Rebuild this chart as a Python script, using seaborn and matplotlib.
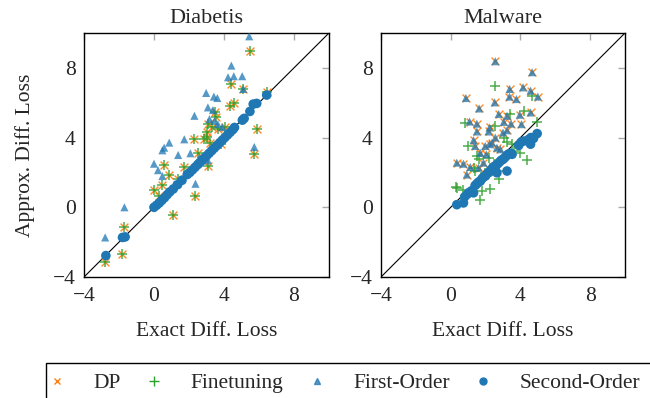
import matplotlib
matplotlib.use("Agg")
import matplotlib.pyplot as plt
import seaborn as sns
import pandas as pd
from matplotlib.patches import Rectangle
from matplotlib.lines import Line2D

# ---------------- data ----------------
panels = ["Diabetis", "Malware"]
methods = ["DP", "Finetuning", "First-Order", "Second-Order"]
ticks = [-4, 0, 4, 8]

# Diabetis
dia_dp_x = [5.48, 4.42, 5.10, 4.33, 4.56, 6.44, 3.46, 5.87, 5.73, 3.10, 3.30, 3.65, 3.00, 2.85, 3.20, 3.05,
            3.85, 2.31, 2.50, 1.73, 3.08, 0.58, 0.87, 0.48, 0.00, 0.29, 2.35, 1.06, -1.73, -1.83, -2.79, 1.35, 4.04, 3.55]
dia_dp_y = [8.96, 7.08, 6.79, 5.83, 5.98, 6.63, 5.44, 4.52, 3.08, 4.80, 4.62, 4.52, 4.30, 3.90, 3.70, 4.05,
            3.62, 3.90, 3.13, 2.31, 2.37, 2.42, 1.88, 1.27, 1.02, 0.63, 0.63, -0.42, -1.13, -2.67, -3.15, 1.60, 4.58, 5.20]
dia_ft_x = [5.48, 4.42, 5.10, 4.33, 4.56, 6.44, 3.46, 5.87, 5.73, 3.10, 3.30, 3.65, 3.00, 2.85, 3.20, 3.05,
            3.85, 2.31, 2.50, 1.73, 3.08, 0.58, 0.87, 0.48, 0.00, 0.29, 2.35, 1.06, -1.73, -1.83, -2.79, 1.35, 4.04, 3.55]
dia_ft_y = [8.96, 7.08, 6.79, 5.83, 5.98, 6.63, 5.44, 4.52, 3.08, 4.80, 4.62, 4.52, 4.30, 3.90, 3.70, 4.05,
            3.62, 3.90, 3.13, 2.31, 2.37, 2.42, 1.88, 1.27, 1.02, 0.63, 0.63, -0.42, -1.13, -2.67, -3.15, 1.60, 4.58, 5.20]
dia_fo_x = [5.44, 4.42, 4.23, 4.56, 5.04, 5.10, 2.98, 3.42, 3.62, 3.08, 3.37, 2.31, 3.17, 3.46, 3.65, 3.90,
            1.73, 0.87, 0.58, 0.48, 1.38, 2.08, 0.00, 0.23, 0.48, 2.37, 3.08, 5.73, -1.69, -2.79, 1.15, 2.60, 3.30]
dia_fo_y = [9.81, 8.13, 7.46, 7.52, 7.52, 6.79, 6.56, 6.35, 6.27, 5.73, 5.58, 5.25, 5.06, 4.96, 4.77, 4.60,
            3.90, 3.71, 3.42, 3.27, 3.00, 3.10, 2.50, 2.13, 1.79, 1.35, 2.69, 3.46, 0.00, -1.73, 1.31, 2.85, 3.40]
dia_so_x = [-2.75, -1.80, -1.65, 0.00, 0.15, 0.30, 0.45, 0.60, 0.75, 0.90, 1.10, 1.35, 1.60, 1.90, 2.05, 2.20,
            2.35, 2.50, 2.60, 2.75, 2.90, 3.00, 3.15, 3.30, 3.45, 3.60, 3.75, 3.90, 4.05, 4.20, 4.35, 4.50,
            4.60, 5.05, 5.15, 5.48, 5.67, 5.87, 6.44]
dia_so_y = [-2.77, -1.73, -1.70, 0.00, 0.12, 0.25, 0.40, 0.55, 0.72, 0.88, 1.05, 1.30, 1.55, 1.88, 2.00, 2.15,
            2.30, 2.45, 2.55, 2.70, 2.85, 2.95, 3.10, 3.25, 3.40, 3.55, 3.70, 3.85, 4.00, 4.15, 4.30, 4.45,
            4.58, 5.00, 5.10, 5.50, 5.92, 5.96, 6.44]

# Malware
mal_fo_x = [2.56, 4.67, 3.38, 4.15, 4.58, 5.00, 3.37, 3.77, 0.87, 2.52, 1.63, 2.75, 3.23, 3.96, 4.58, 1.08,
            1.50, 1.50, 2.23, 2.17, 3.04, 3.46, 4.06, 3.00, 3.23, 2.56, 2.37, 1.31, 1.40, 1.98, 2.23, 2.65,
            2.85, 1.69, 2.04, 0.35, 0.73, 1.12, 0.92, 1.60, 1.88]
mal_fo_y = [8.38, 7.75, 6.79, 6.88, 6.69, 6.35, 6.35, 6.21, 6.27, 6.02, 5.67, 5.35, 5.25, 5.31, 5.44, 4.92,
            4.80, 4.35, 4.58, 4.35, 4.90, 4.80, 4.77, 4.29, 4.42, 4.00, 3.71, 3.85, 3.52, 3.52, 3.62, 3.42,
            3.33, 3.13, 3.04, 2.56, 2.50, 2.31, 1.88, 2.27, 2.56]
mal_dp_x = [2.56, 4.67, 3.38, 4.15, 4.58, 5.00, 3.37, 3.77, 0.87, 2.52, 1.63, 2.75, 3.23, 3.96, 4.58, 1.08,
            1.50, 1.50, 2.23, 2.17, 3.04, 3.46, 4.06, 3.00, 3.23, 2.56, 2.37, 1.31, 1.40, 1.98, 2.23, 2.65,
            2.85, 1.69, 2.04, 0.35, 0.73, 1.12, 0.92, 1.60, 1.88]
mal_dp_y = [8.38, 7.75, 6.79, 6.88, 6.69, 6.35, 6.35, 6.21, 6.27, 6.02, 5.67, 5.35, 5.25, 5.31, 5.44, 4.92,
            4.80, 4.35, 4.58, 4.35, 4.90, 4.80, 4.77, 4.29, 4.42, 4.00, 3.71, 3.85, 3.52, 3.52, 3.62, 3.42,
            3.33, 3.13, 3.04, 2.56, 2.50, 2.31, 1.88, 2.27, 2.56]
mal_ft_x = [2.56, 4.67, 3.42, 4.19, 4.96, 0.83, 2.56, 3.04, 3.23, 3.52, 1.02, 1.50, 1.60, 2.17, 4.00, 4.35,
            2.46, 2.75, 2.75, 0.35, 0.73, 1.79, 2.27, 1.69, 1.40, 1.31, 3.62, 1.98, 0.30]
mal_ft_y = [6.98, 6.40, 5.35, 5.50, 4.92, 4.83, 4.67, 4.00, 3.77, 3.62, 3.52, 2.94, 2.75, 2.85, 3.13, 2.71,
            2.46, 2.08, 1.60, 1.12, 0.98, 0.92, 1.06, 0.44, 2.08, 2.27, 3.23, 1.98, 1.14]
mal_so_x = [0.35, 0.73, 0.80, 0.95, 1.05, 1.20, 1.31, 1.40, 1.50, 1.60, 1.70, 1.80, 1.90, 2.00, 2.10, 2.20,
            2.30, 2.40, 2.50, 2.60, 2.65, 2.70, 2.80, 2.90, 3.00, 3.10, 3.20, 3.23, 3.30, 3.45, 3.52, 3.90,
            4.05, 4.19, 4.48, 4.58, 4.60, 4.75, 4.96]
mal_so_y = [0.15, 0.25, 0.60, 0.75, 0.85, 0.95, 0.83, 1.25, 1.35, 1.45, 1.50, 1.65, 1.75, 1.80, 1.95, 2.00,
            2.15, 2.25, 2.35, 2.40, 1.98, 2.50, 2.60, 2.70, 2.75, 2.85, 2.95, 2.08, 3.05, 3.10, 3.04, 3.55,
            3.75, 3.80, 3.90, 3.62, 4.00, 3.95, 4.23]

series = {
    "Diabetis": {
        "DP": (dia_dp_x, dia_dp_y),
        "Finetuning": (dia_ft_x, dia_ft_y),
        "First-Order": (dia_fo_x, dia_fo_y),
        "Second-Order": (dia_so_x, dia_so_y),
    },
    "Malware": {
        "DP": (mal_dp_x, mal_dp_y),
        "Finetuning": (mal_ft_x, mal_ft_y),
        "First-Order": (mal_fo_x, mal_fo_y),
        "Second-Order": (mal_so_x, mal_so_y),
    },
}

rows = []
for p in panels:
    for m in methods:
        xs, ys = series[p][m]
        for a, b in zip(xs, ys):
            rows.append({"panel": p, "method": m, "exact": a, "approx": b})
df = pd.DataFrame(rows)

# ---------------- style ----------------
sns.set_theme(style="white")
plt.rcParams["font.family"] = ["Liberation Serif", "DejaVu Serif"]
FS = 15.5

colors = {"DP": "#ff7f0e", "Finetuning": "#2ca02c", "First-Order": "#1f77b4", "Second-Order": "#1f77b4"}
markers = {"DP": "x", "Finetuning": "+", "First-Order": "^", "Second-Order": "o"}
sizes = {"DP": 32, "Finetuning": 60, "First-Order": 34, "Second-Order": 48}
alphas = {"DP": 0.9, "Finetuning": 0.85, "First-Order": 0.75, "Second-Order": 1.0}
lws = {"DP": 1.0, "Finetuning": 1.1, "First-Order": 0, "Second-Order": 0}

W, H = 650, 398
fig = plt.figure(figsize=(W / 100, H / 100), dpi=100)

def fx(px):
    return px / W

def fy(py):
    return 1 - py / H

ax_pos = [(84, 33, 329, 277), (381, 33, 625, 277)]
axes = []
for (l, t, r, b), p in zip(ax_pos, panels):
    ax = fig.add_axes([fx(l), fy(b), (r - l) / W, (b - t) / H])
    axes.append(ax)
    ax.plot([-4, 10], [-4, 10], color="black", lw=0.8, zorder=1)
    sub = df[df["panel"] == p]
    for m in methods:
        d = sub[sub["method"] == m]
        sns.scatterplot(data=d, x="exact", y="approx", ax=ax, color=colors[m], marker=markers[m],
                        s=sizes[m], alpha=alphas[m], linewidth=lws[m], edgecolor=None if lws[m] else "none",
                        legend=False, zorder=3)
    ax.set_xlim(-4, 10)
    ax.set_ylim(-4, 10)
    ax.set_xticks(ticks)
    ax.set_yticks(ticks)
    ax.set_xticklabels([f"\u2212{abs(t)}" if t < 0 else str(t) for t in ticks])
    ax.set_yticklabels([f"\u2212{abs(t)}" if t < 0 else str(t) for t in ticks])
    ax.tick_params(direction="in", length=5, width=1, color="#aaaaaa", top=True, right=True,
                   labelsize=FS, pad=5)
    ax.tick_params(axis="x", pad=7)
    ax.tick_params(axis="y", pad=6)
    for s in ax.spines.values():
        s.set_color("black")
        s.set_linewidth(1.0)
    ax.set_title(p, fontsize=FS + 0.5, pad=7)
    ax.set_xlabel("Exact Diff. Loss", fontsize=FS, labelpad=12)
    ax.set_ylabel("")

axes[0].set_ylabel("Approx. Diff. Loss", fontsize=FS, labelpad=13)

# legend
fig.patches.append(Rectangle((fx(46), fy(405)), (700 - 46) / W, (405 - 363) / H,
                             transform=fig.transFigure, fill=False, edgecolor="black", lw=1.0))
handles = []
for m in methods:
    handles.append(Line2D([], [], linestyle="none", marker=markers[m], color=colors[m],
                          markersize=5 if m != "Finetuning" else 7.5, markeredgewidth=1.0,
                          alpha=alphas[m] if m == "First-Order" else 1.0))
fig.legend(handles, methods, loc="center left", bbox_to_anchor=(fx(46), fy(383)), ncol=4,
           frameon=False, fontsize=FS, handlelength=1.0, handletextpad=1.2, columnspacing=1.05,
           borderpad=0, borderaxespad=0)

fig.savefig("out.png", dpi=100)
